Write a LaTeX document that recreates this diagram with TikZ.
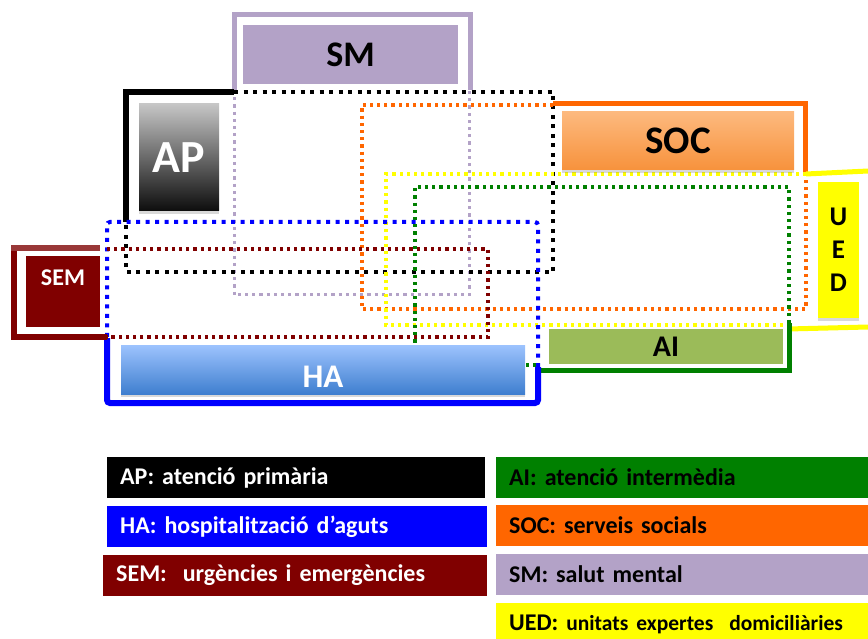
\documentclass[tikz,border=0pt]{standalone}
\usepackage{fontspec}
\setmainfont{Carlito}
\usetikzlibrary{shadows}

\DeclareRobustCommand\keytight{\spaceskip=3.4pt\relax}

\definecolor{smpurple}{HTML}{B3A2C7}
\definecolor{socorange}{HTML}{FF6600}
\definecolor{aigreen}{HTML}{008000}
\definecolor{aifill}{HTML}{9BBB59}
\definecolor{semred}{HTML}{800000}
\definecolor{semtop}{HTML}{993838}
\definecolor{hablue}{HTML}{0000FF}
\definecolor{uedyellow}{HTML}{FFFF00}

\begin{document}
\begin{tikzpicture}[x=1pt,y=-1pt,
	boxlabel/.style={inner sep=0pt},
	keybox/.style={anchor=west, inner xsep=13pt, inner ysep=0pt, minimum height=41pt, align=left, text width=#1, font=\bfseries\fontsize{24}{28}\selectfont\keytight},
	bigdots/.style={line width=4pt, dash pattern=on 4pt off 5.5pt},
	smalldots/.style={line width=3.2pt, dash pattern=on 3.2pt off 4pt},
	frame/.style={line width=5pt},
	lowshadow/.style={drop shadow={shadow xshift=0pt, shadow yshift=-3pt, opacity=0.3, fill=gray}}]

		\useasboundingbox (0,0) rectangle (868,639);

		\draw [frame, smpurple] (234,90) -- (234,15) -- (470,15) -- (470,90);
		\draw [smalldots, smpurple, line width=3pt] (234,90) -- (234,295) -- (469,295) -- (469,90);

		\draw [frame, line width=6pt] (126,222) -- (126,92) -- (234,92);
		\draw [bigdots, line width=3.8pt] (234,92) -- (553,92) -- (553,272) -- (126,272) -- (126,222);

		\draw [frame, socorange] (553,104) -- (805,104) -- (805,173);
		\draw [smalldots, socorange] (553,105) -- (362,105) -- (362,309) -- (806,309) -- (806,173);

		\draw [frame, uedyellow] (806,174) -- (868,171);
		\draw [frame, uedyellow] (788,329) -- (868,327);
		\draw [smalldots, uedyellow] (806,174) -- (386,174) -- (386,325) -- (788,325);

		\draw [frame, aigreen] (789,323) -- (789,370) -- (538,370);
		\draw [smalldots, aigreen] (789,323) -- (789,187) -- (415,187) -- (415,365) -- (538,365);

		\draw [frame, hablue, line width=6pt, rounded corners=3pt] (107,338) -- (107,403) -- (538,403) -- (538,367);
		\draw [bigdots, hablue, rounded corners=3pt] (538,367) -- (538,222) -- (107,222) -- (107,338);

		\draw [frame, semred, line width=6pt] (14,248) -- (14,337) -- (107,337);
		\draw [frame, semtop, line width=6pt] (11,248) -- (100,248);
		\draw [smalldots, semred] (107,249) -- (488,249) -- (488,337) -- (107,337);

		\node (SM) at (350.5,54.5) [boxlabel, fill=smpurple, minimum width=215pt, minimum height=59pt, font=\bfseries\fontsize{36}{36}\selectfont]{SM};
		\node (AP) at (179,157.5) [boxlabel, lowshadow, top color=gray!45, bottom color=black!95, text=white, minimum width=80pt, minimum height=107pt, font=\bfseries\fontsize{46}{46}\selectfont]{AP};
		\node (SOC) at (678,141) [boxlabel, lowshadow, top color={rgb,255:red,253;green,185;blue,126}, bottom color={rgb,255:red,247;green,146;blue,60}, minimum width=232pt, minimum height=58pt, font=\bfseries\fontsize{39}{39}\selectfont]{SOC};
		\node (UED) at (838.5,250) [boxlabel, lowshadow, fill=uedyellow, minimum width=41pt, minimum height=136pt, align=center, font=\bfseries\fontsize{27}{33}\selectfont]{U\\E\\D};
		\node (AI) at (666,346.5) [boxlabel, fill=aifill, minimum width=234pt, minimum height=35pt, font=\bfseries\fontsize{30}{30}\selectfont]{AI};
		\node (HA) at (323,369.5) [boxlabel, lowshadow, top color={rgb,255:red,157;green,195;blue,254}, bottom color={rgb,255:red,63;green,127;blue,207}, text=white, minimum width=404pt, minimum height=49pt, text height=36pt, text depth=0pt, font=\bfseries\fontsize{33}{33}\selectfont]{HA};
		\node (SEM) at (63,291.5) [boxlabel, fill=semred, text=white, minimum width=74pt, minimum height=71pt, text height=0pt, text depth=12pt, font=\bfseries\fontsize{24}{24}\selectfont]{SEM};

		\node (APkey) at (107,477.5) [keybox=352pt, fill=black, text=white]{AP: atenció primària};
		\node (HAkey) at (107,526.5) [keybox=354pt, fill=hablue, text=white]{HA: hospitalització d’aguts};
		\node (SEMkey) at (103,575) [keybox=358pt, fill=semred, text=white]{SEM:\ \ urgències i emergències};

		\node (AIkey) at (496,477.5) [keybox=348pt, fill=aigreen]{AI: atenció intermèdia};
		\node (SOCkey) at (496,525.5) [keybox=348pt, fill=socorange]{SOC: serveis socials};
		\node (SMkey) at (496,574) [keybox=348pt, fill=smpurple]{SM: salut mental};
		\node (UEDkey) at (496,624) [keybox=348pt, fill=uedyellow, minimum height=42pt]{UED: {\fontsize{21.5}{24}\selectfont unitats expertes\ \ domiciliàries}};
	\end{tikzpicture}
\end{document}
